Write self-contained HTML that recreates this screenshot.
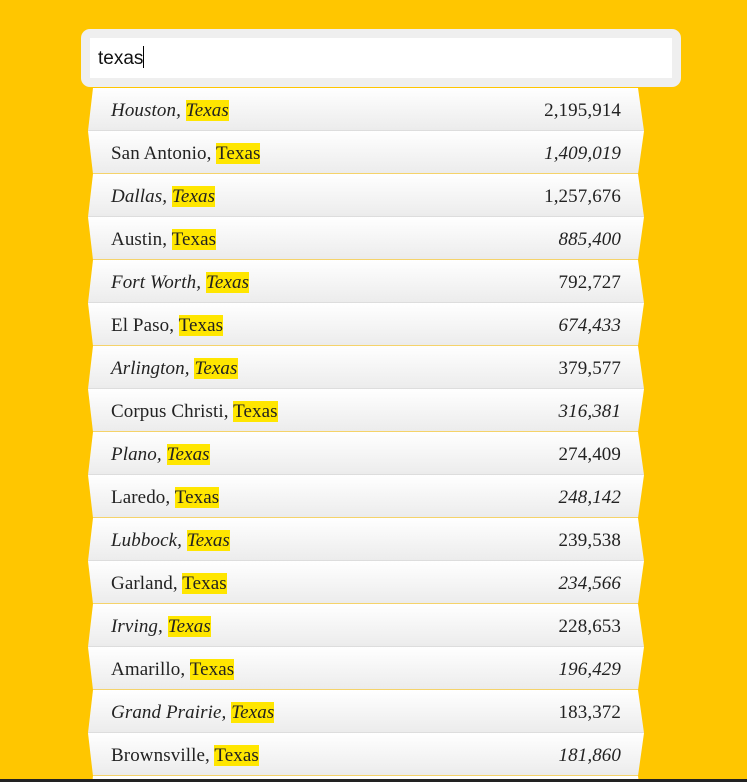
<!DOCTYPE html>
<html><head><meta charset="utf-8"><style>
html,body{margin:0;width:747px;height:782px;overflow:hidden;}
body{background:#ffc600;position:relative;font-family:"Liberation Serif",serif;}
#box{position:absolute;left:81px;top:29px;width:600px;height:58px;background:#efefef;border-radius:9px;}
#inp{position:absolute;left:9px;top:9px;width:582px;height:40px;background:#fff;font-family:"Liberation Sans",sans-serif;font-size:19px;line-height:42px;padding-left:8px;box-sizing:border-box;color:#111;}
#inp span{display:inline-block;width:1px;height:22px;background:#000;vertical-align:-4px;}
.row{position:absolute;left:88px;width:556px;height:43px;background:linear-gradient(#fff,#ececec);font-size:19px;color:#222;line-height:45px;box-sizing:border-box;letter-spacing:0.1px;}
.row .n{position:absolute;left:23px;}
.row .v{position:absolute;right:23px;}
.hl{background:#ffe600;}
.odd{clip-path:polygon(5px 0,550px 0,556px 100%,0 100%);border-bottom:1px solid #ddd;}
.even{clip-path:polygon(0 0,556px 0,550px 100%,5px 100%);border-bottom:1px solid #f5d36a;}
.odd .n{font-style:italic}.even .v{font-style:italic}
#bar{position:absolute;left:0;top:779px;width:747px;height:3px;background:#222;}
</style></head><body>
<div id="box"><div id="inp">texas<span></span></div></div>
<div id="list"></div>
<div id="bar"></div>
<script>
const cities=["Houston","San Antonio","Dallas","Austin","Fort Worth","El Paso","Arlington","Corpus Christi","Plano","Laredo","Lubbock","Garland","Irving","Amarillo","Grand Prairie","Brownsville","Pasadena"];
const pops=["2,195,914","1,409,019","1,257,676","885,400","792,727","674,433","379,577","316,381","274,409","248,142","239,538","234,566","228,653","196,429","183,372","181,860","149,043"];
const list=document.getElementById('list');
cities.forEach((c,i)=>{
  const r=document.createElement('div');
  
  
  r.className='row '+(i%2?'even':'odd');
  r.style.top=(88+i*43)+'px';
  r.innerHTML='<span class="n">'+c+', <span class="hl">Texas</span></span><span class="v">'+pops[i]+'</span>';
  list.appendChild(r);
});
</script>
</body></html>
